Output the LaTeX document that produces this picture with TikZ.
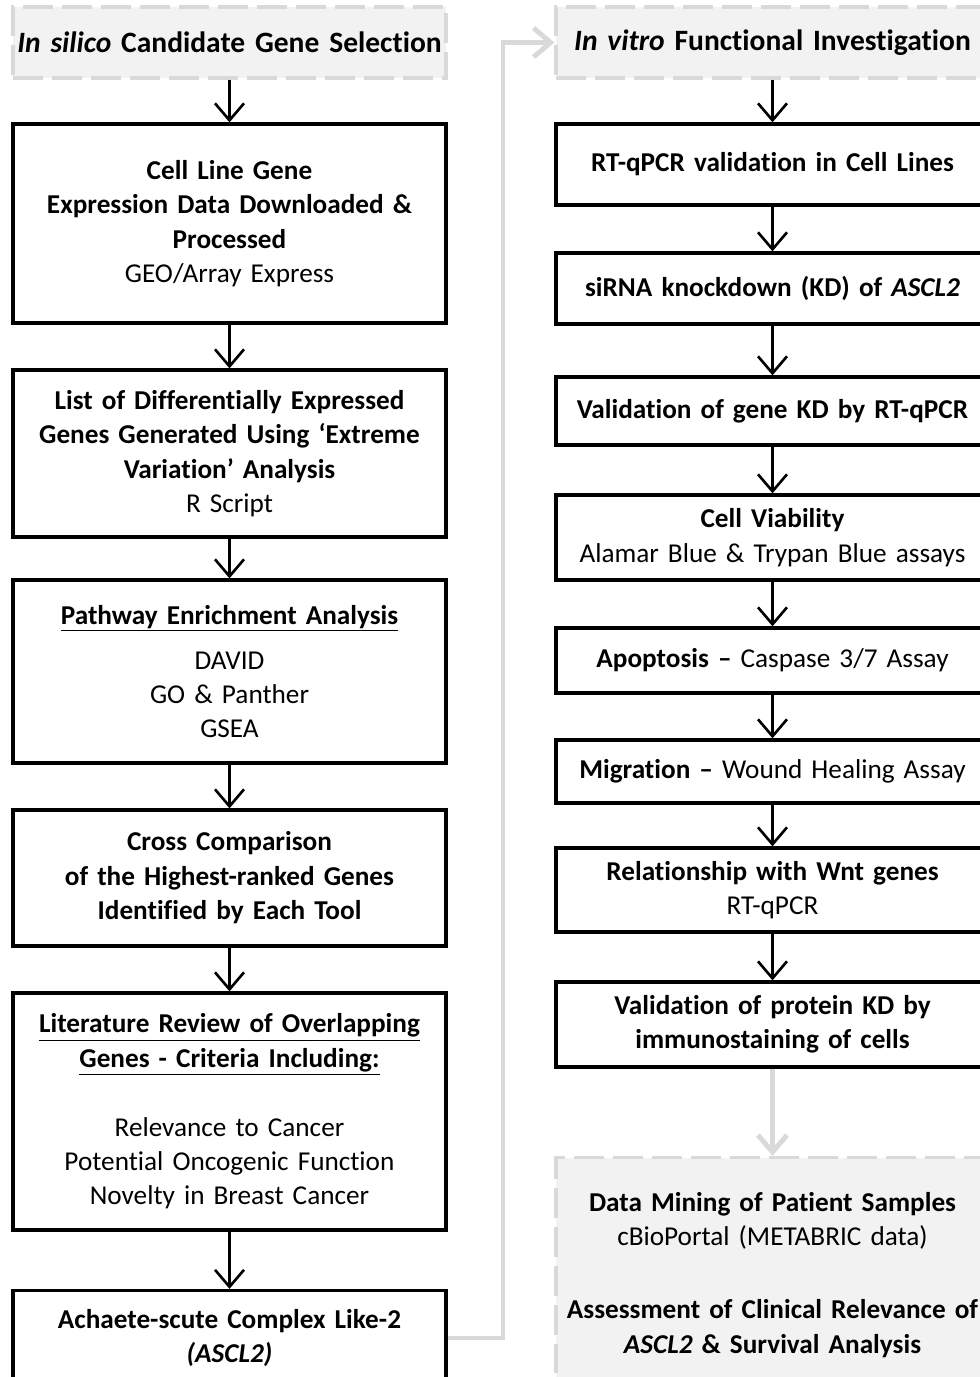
\documentclass[tikz,border=0pt]{standalone}
\usepackage{fontspec}
\setmainfont{Carlito}[WordSpace=0.6,Ligatures=NoCommon]
\usepackage{xcolor}
\usetikzlibrary{arrows.meta,positioning}
\definecolor{cgray}{HTML}{D9D9D9}
\definecolor{cfill}{HTML}{F2F2F2}
\definecolor{cink}{HTML}{000000}
\tikzset{>={Straight Barb[length=3.4mm,width=5.8mm]},
  bx/.style={draw=cink,line width=1.9pt,fill=white,align=center,inner sep=0pt,minimum width=8.66cm,text width=8.5cm,font=\fontsize{15.5}{19.6}\selectfont},
  hd/.style={bx,draw=cgray,fill=cfill,dash pattern=on 0.6cm off 0.18cm,font=\fontsize{16.8}{21}\selectfont\bfseries},
  ln/.style={->,draw=cink,line width=1.5pt},
  gln/.style={->,draw=cgray,line width=2.8pt}}

\begin{document}
\begin{tikzpicture}[x=0.02cm,y=-0.02cm]
\clip (0,0) rectangle (980,1377);
\fill[white] (0,0) rectangle (980,1377);

% ================= LEFT: in silico selection =================
\node[hd,minimum height=1.42cm] (lh) at (229.5,42.5) {\textit{In silico} Candidate Gene Selection};
\node[bx,minimum height=3.98cm] (l1) at (229.5,223.5) {\textbf{Cell Line Gene}\\ \textbf{Expression Data Downloaded \&}\\ \textbf{Processed}\\ GEO/Array Express};
\node[bx,minimum height=3.34cm] (l2) at (229.5,453.5) {\textbf{List of Differentially Expressed}\\ \textbf{Genes Generated Using `Extreme}\\ \textbf{Variation' Analysis}\\ R Script};
\node[bx,minimum height=3.66cm] (l3) at (229.5,671.5) {\textbf{\underline{Pathway Enrichment Analysis}}\\[6pt] DAVID\\ GO \& Panther\\ GSEA};
\node[bx,minimum height=2.72cm] (l4) at (229.5,878) {\textbf{Cross Comparison}\\ \textbf{of the Highest-ranked Genes}\\ \textbf{Identified by Each Tool}};
\node[bx,minimum height=4.74cm] (l5) at (229.5,1111.5) {\textbf{\underline{Literature Review of Overlapping}}\\ \textbf{\underline{Genes - Criteria Including:}}\\[19.6pt] Relevance to Cancer\\ Potential Oncogenic Function\\ Novelty in Breast Cancer};
\node[bx,minimum height=1.9cm] (l6) at (229.5,1338) {\textbf{Achaete-scute Complex Like-2}\\ \textbf{\textit{(ASCL2)}}};

\draw[ln] (lh) -- (l1);
\draw[ln] (l1) -- (l2);
\draw[ln] (l2) -- (l3);
\draw[ln] (l3) -- (l4);
\draw[ln] (l4) -- (l5);
\draw[ln] (l5) -- (l6);

% ================= RIGHT: in vitro investigation =================
\node[hd,minimum height=1.42cm] (rh) at (772.5,42.5) {\textit{In vitro} Functional Investigation};
\node[bx,minimum height=1.62cm] (r1) at (772.5,164.5) {\textbf{RT-qPCR validation in Cell Lines}};
\node[bx,minimum height=1.42cm] (r2) at (772.5,288.5) {\textbf{siRNA knockdown (KD) of \textit{ASCL2}}};
\node[bx,minimum height=1.36cm] (r3) at (772.5,411) {\textbf{Validation of gene KD by RT-qPCR}};
\node[bx,minimum height=1.70cm] (r4) at (772.5,537.5) {\textbf{Cell Viability}\\ Alamar Blue \& Trypan Blue assays};
\node[bx,minimum height=1.30cm] (r5) at (772.5,660.5) {\textbf{Apoptosis --} Caspase 3/7 Assay};
\node[bx,minimum height=1.26cm] (r6) at (772.5,771.5) {\textbf{Migration --} Wound Healing Assay};
\node[bx,minimum height=1.68cm] (r7) at (772.5,890) {\textbf{Relationship with Wnt genes}\\ RT-qPCR};
\node[bx,minimum height=1.70cm] (r8) at (772.5,1024.5) {\textbf{Validation of protein KD by}\\ \textbf{immunostaining of cells}};
\node[bx,draw=cgray,fill=cfill,dash pattern=on 0.6cm off 0.18cm,minimum height=4.7cm] (dm) at (772.5,1275)
   {\textbf{Data Mining of Patient Samples}\\ cBioPortal (METABRIC data)\\[22pt] \textbf{Assessment of Clinical Relevance of}\\ \textbf{\textit{ASCL2} \& Survival Analysis}};

\draw[ln] (rh) -- (r1);
\draw[ln] (r1) -- (r2);
\draw[ln] (r2) -- (r3);
\draw[ln] (r3) -- (r4);
\draw[ln] (r4) -- (r5);
\draw[ln] (r5) -- (r6);
\draw[ln] (r6) -- (r7);
\draw[ln] (r7) -- (r8);
\draw[gln] (r8) -- (dm);

% link between the two columns
\coordinate (bend) at (503,0);
\draw[gln] (l6.east) -- (l6.east -| bend) -- (rh.west -| bend) -- (rh.west);

\end{tikzpicture}
\end{document}
